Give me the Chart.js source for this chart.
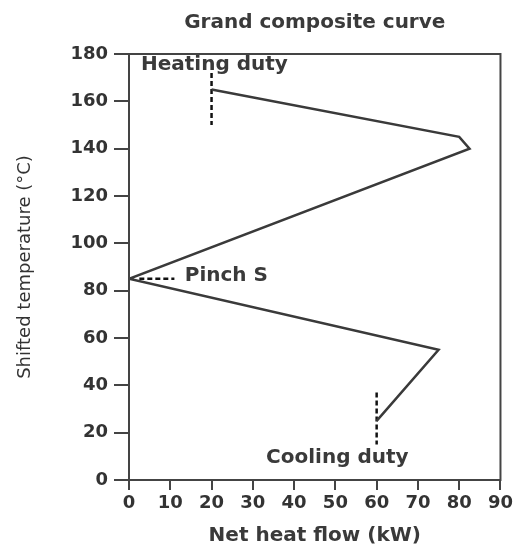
<!DOCTYPE html>
<html>
<head>
<meta charset="utf-8">
<title>Grand composite curve</title>
<script src="https://cdn.jsdelivr.net/npm/chart.js@4.4.1/dist/chart.umd.min.js"></script>
<style>
  html, body { margin: 0; padding: 0; background: #fff; }
</style>
</head>
<body>
<canvas id="gcc" width="516" height="547"></canvas>
<script>
// ===============================
// DATA
// ===============================
const xTicks = [0, 10, 20, 30, 40, 50, 60, 70, 80, 90];
const yTicks = [0, 20, 40, 60, 80, 100, 120, 140, 160, 180];

// grand composite curve: net heat flow (kW) vs shifted temperature (°C)
const curveHeat = [20, 80, 82.5, 0, 75, 60];
const curveTemp = [165, 145, 140, 85, 55, 25];

// dashed markers
const heatingDutyX = [20, 20];
const heatingDutyY = [172, 150];
const pinchX = [2.5, 11];
const pinchY = [85, 85];
const coolingDutyX = [60, 60];
const coolingDutyY = [37, 15];

// annotation texts, anchored at [x, y] in data units (left edge, middle)
const noteTexts = ["Heating duty", "Pinch S", "Cooling duty"];
const noteX = [2.9, 13.5, 33.2];
const noteY = [175.3, 86.3, 9.3];

const toPoints = (xs, ys) => xs.map((x, i) => ({ x: x, y: ys[i] }));

// ===============================
// STYLE
// ===============================
const FONT = "'DejaVu Sans', 'Liberation Sans', sans-serif";
const AXIS = "#444";
const TEXT = "#3a3a3a";

// frame, title and notes
const extrasPlugin = {
  id: "extras",
  afterDraw(chart) {
    const { ctx, chartArea: a, scales } = chart;
    ctx.save();
    ctx.strokeStyle = AXIS;
    ctx.lineWidth = 2;
    ctx.strokeRect(a.left, a.top, a.right - a.left, a.bottom - a.top);

    ctx.fillStyle = TEXT;
    ctx.font = "bold 20px " + FONT;
    ctx.textBaseline = "middle";
    ctx.textAlign = "center";
    ctx.fillText("Grand composite curve", (a.left + a.right) / 2, 23);

    ctx.textAlign = "left";
    noteTexts.forEach((t, i) => {
      const px = scales.x.getPixelForValue(noteX[i]);
      const py = scales.y.getPixelForValue(noteY[i]);
      ctx.fillText(t, px, py);
    });
    ctx.restore();
  }
};

// ===============================
// CHART
// ===============================
const dashed = {
  borderColor: "#111",
  borderWidth: 2.5,
  borderDash: [5, 3],
  pointRadius: 0,
  showLine: true,
  fill: false
};

new Chart(document.getElementById("gcc"), {
  type: "scatter",
  data: {
    datasets: [
      {
        label: "Grand composite curve",
        data: toPoints(curveHeat, curveTemp),
        borderColor: "#3a3a3a",
        borderWidth: 2.5,
        pointRadius: 0,
        showLine: true,
        fill: false
      },
      Object.assign({ label: "Heating duty", data: toPoints(heatingDutyX, heatingDutyY) }, dashed),
      Object.assign({ label: "Pinch", data: toPoints(pinchX, pinchY) }, dashed),
      Object.assign({ label: "Cooling duty", data: toPoints(coolingDutyX, coolingDutyY) }, dashed)
    ]
  },
  options: {
    responsive: false,
    animation: false,
    layout: { padding: { top: 54, right: 14, left: 0, bottom: 0 } },
    plugins: {
      legend: { display: false },
      tooltip: { enabled: false }
    },
    scales: {
      x: {
        type: "linear",
        min: 0,
        max: 90,
        afterBuildTicks: s => { s.ticks = xTicks.map(v => ({ value: v })); },
        afterFit: s => { s.height = 67; },
        grid: { drawOnChartArea: false, drawTicks: true, tickLength: 10, color: AXIS, lineWidth: 2 },
        border: { display: false },
        ticks: { color: "#333", padding: 3, maxRotation: 0, font: { family: FONT, size: 18, weight: "bold" } },
        title: {
          display: true,
          text: "Net heat flow (kW)",
          color: TEXT,
          padding: { top: 0, bottom: 1 },
          font: { family: FONT, size: 20, weight: "bold", lineHeight: 1 }
        }
      },
      y: {
        type: "linear",
        min: 0,
        max: 180,
        afterBuildTicks: s => { s.ticks = yTicks.map(v => ({ value: v })); },
        afterFit: s => { s.width = 129; },
        grid: { drawOnChartArea: false, drawTicks: true, tickLength: 15, color: AXIS, lineWidth: 2 },
        border: { display: false },
        ticks: { color: "#333", padding: 6, font: { family: FONT, size: 18, weight: "bold" } },
        title: {
          display: true,
          text: "Shifted temperature (°C)",
          color: "#333",
          padding: { top: 15, bottom: 0 },
          font: { family: FONT, size: 18, lineHeight: 1.2 }
        }
      }
    }
  },
  plugins: [extrasPlugin]
});
</script>
</body>
</html>
